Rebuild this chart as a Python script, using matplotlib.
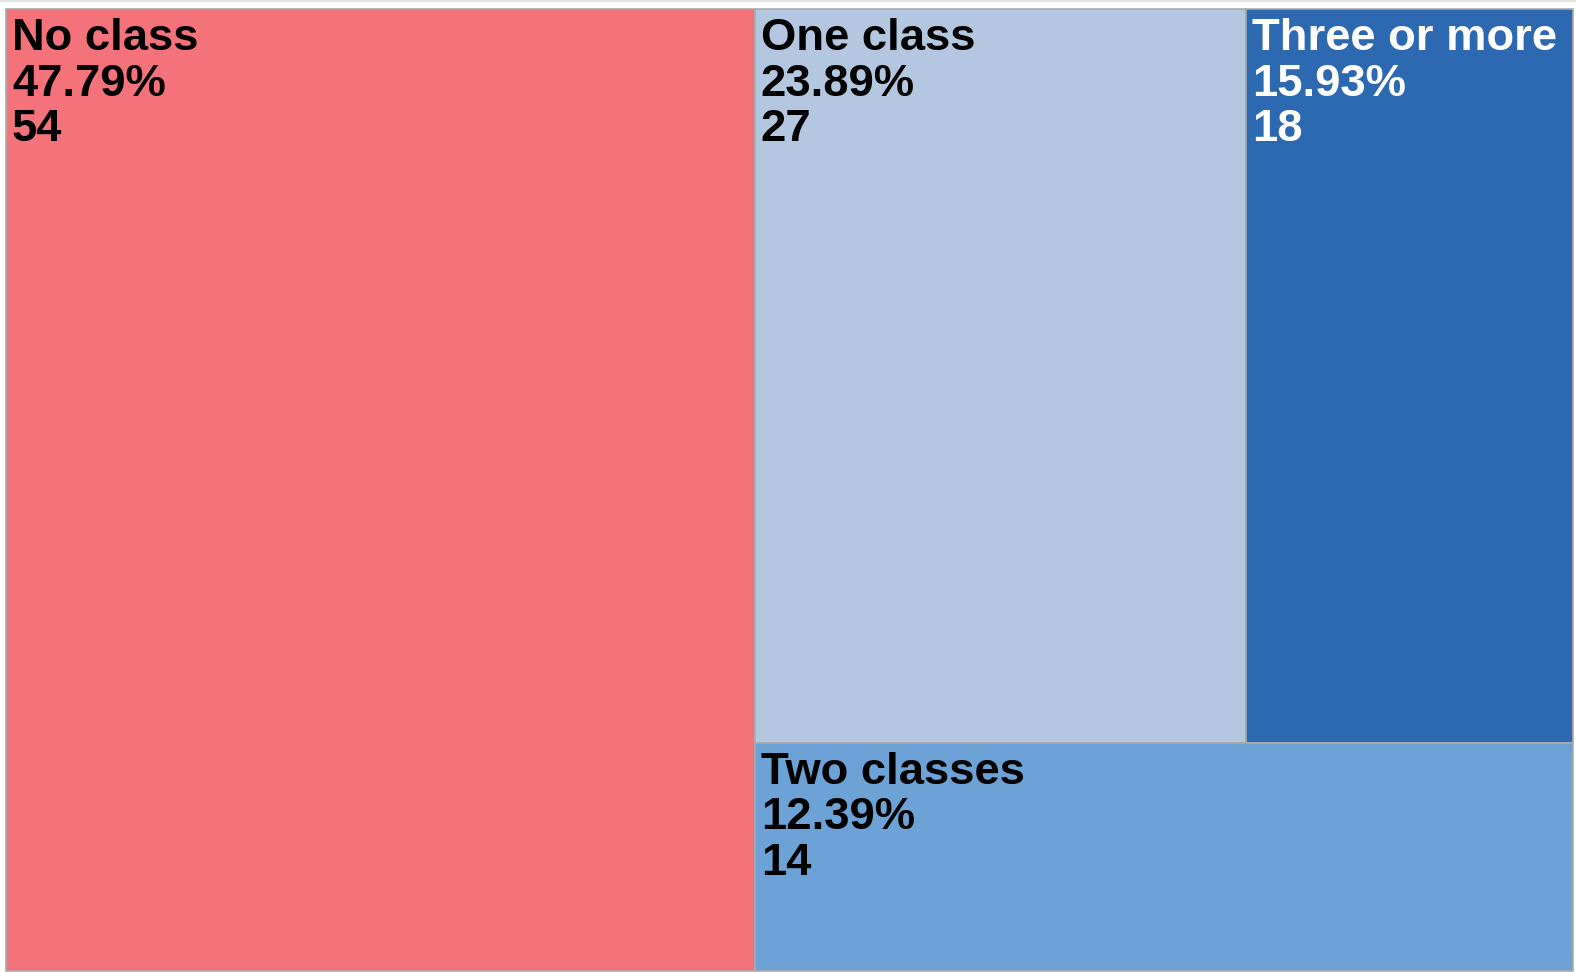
import matplotlib.pyplot as plt
from matplotlib.patches import Rectangle

# datos del treemap
labels = ['No class', 'One class', 'Three or more', 'Two classes']
values = [54, 27, 18, 14]
colors = ['#F4727A', '#B4C7E1', '#2D69B0', '#6CA2D6']
text_colors = ['black', 'black', 'white', 'black']

W, H = 1576, 972
PHI = (1 + 5 ** 0.5) / 2


# squarify al estilo d3 (ratio = phi)
def squarify(vals, x0, y0, x1, y1, ratio=PHI):
    rects = [None] * len(vals)
    total = float(sum(vals))
    i0 = i1 = 0
    n = len(vals)
    while i0 < n:
        dx, dy = x1 - x0, y1 - y0
        s = vals[i1]
        i1 += 1
        vmin = vmax = s
        alpha = max(dy / dx, dx / dy) / (total * ratio)
        beta = s * s * alpha
        min_ratio = max(vmax / beta, beta / vmin)
        while i1 < n:
            v = vals[i1]
            s += v
            vmin = min(vmin, v)
            vmax = max(vmax, v)
            beta = s * s * alpha
            new_ratio = max(vmax / beta, beta / vmin)
            if new_ratio > min_ratio:
                s -= v
                break
            min_ratio = new_ratio
            i1 += 1
        row = list(range(i0, i1))
        if dx < dy:
            # fila horizontal (dice)
            ny = y0 + dy * s / total if total else y1
            cx = x0
            for k in row:
                w = dx * vals[k] / s
                rects[k] = (cx, y0, w, ny - y0)
                cx += w
            y0 = ny
        else:
            # columna vertical (slice)
            nx = x0 + dx * s / total if total else x1
            cy = y0
            for k in row:
                h = dy * vals[k] / s
                rects[k] = (x0, cy, nx - x0, h)
                cy += h
            x0 = nx
        total -= s
        i0 = i1
    return rects


fig = plt.figure(figsize=(W / 100, H / 100), dpi=100)
ax = fig.add_axes([0, 0, 1, 1])
ax.set_xlim(0, W)
ax.set_ylim(H, 0)
ax.axis('off')

# linea fina arriba
ax.plot([0, W], [1.5, 1.5], color='#dddddd', lw=1.2)

rects = squarify(values, 6, 9, 1573, 971)
tot = sum(values)
for (x, y, w, h), lab, v, c, tc in zip(rects, labels, values, colors, text_colors):
    ax.add_patch(Rectangle((x, y), w, h, facecolor=c, edgecolor='#aaaaaa', lw=1.2))
    lines = [lab, '%.2f%%' % (100 * v / tot), str(v)]
    for j, t in enumerate(lines):
        ax.text(x + 6, y + 41 + j * 45.5, t, color=tc, fontsize=32.7,
                fontweight='bold', family=['Liberation Sans', 'DejaVu Sans'],
                va='baseline', ha='left')

fig.savefig('out.png', dpi=100)
